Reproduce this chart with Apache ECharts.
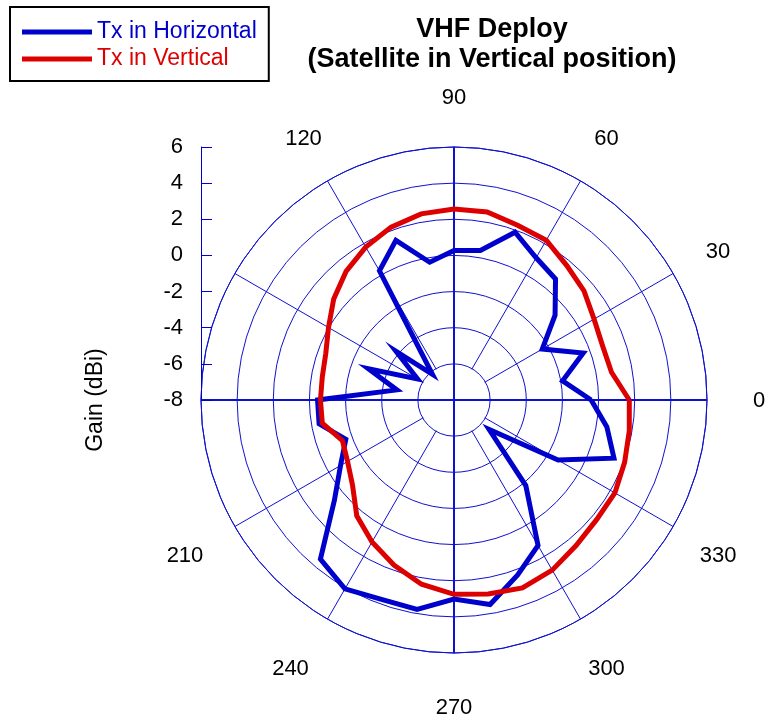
<!DOCTYPE html>
<html><head><meta charset="utf-8">
<script src="https://cdn.jsdelivr.net/npm/echarts@6/dist/echarts.min.js"></script>
<style>html,body{margin:0;padding:0;background:#fff}#c{width:769px;height:722px}</style>
</head><body><div id="c"></div>
<script>
// Angle (degrees, counter-clockwise from 0 at right)
const angles = [0,10,20,30,40,50,60,70,80,90,100,110,120,130,140,150,160,170,
                180,190,200,210,220,230,240,250,260,270,280,290,300,310,320,330,340,350];
// Gain (dBi), Tx in Horizontal
const horizontalGain = [-0.41,-1.9,-0.39,-2.36,-0.70,0.74,1.09,1.88,0.40,0.27,-0.26,1.40,0.25,-6.14,-3.81,-5.67,-2.96,-4.79,
                        -0.45,-0.42,-1.63,-0.75,0.64,3.50,4.07,3.74,3.76,3.02,3.49,2.30,1.30,-1.82,-5.46,-1.35,1.42,0.59];
// Gain (dBi), Tx in Vertical
const verticalGain = [1.70,0.85,0.75,0.95,1.39,1.71,2.21,2.29,2.56,2.57,2.46,2.18,1.77,1.29,0.69,0.02,-0.45,-0.60,
                      -0.61,-0.60,-1.43,-1.20,-0.67,0.37,1.07,1.72,2.35,2.75,2.90,3.07,2.87,2.51,2.30,2.28,2.05,1.85];
const seriesNames = ['Tx in Horizontal', 'Tx in Vertical'];
// Angle tick labels shown around the dial (150 and 180 are hidden by the gain axis in the original)
const angleLabels = [0, 30, 60, 90, 120, 210, 240, 270, 300, 330];
const gainMin = -8, gainMax = 6, gainStep = 2;
const angleStep = 30;

function closed(gains) {
  const d = angles.map((a, i) => [gains[i], a]);
  d.push([gains[0], 360]);
  return d;
}

const FONT = 'Liberation Sans, Arial, sans-serif';
const GRID = '#1010d0';
const BLUE = '#0000cc';
const RED = '#dd0000';
const CX = 454, CY = 400, R = 253;

// label box sizes (width, height, top padding) used to place each angle label on its ring
const labelBox = {
  0: [28, 24, 2], 30: [24, 6, 0], 60: [14, 18, 0], 90: [24, 22, 0], 120: [10, 18, 0],
  210: [34, 20, 0], 240: [36, 34, 0], 270: [24, 34, 0], 300: [14, 34, 0], 330: [24, 20, 0]
};
const rich = {};
angleLabels.forEach(v => {
  const b = labelBox[v];
  rich['a' + v] = {width: b[0], height: b[1], padding: [b[2], 0, 0, 0], align: 'center',
                   verticalAlign: 'middle', color: '#000', fontFamily: FONT, fontSize: 22};
});

const chart = echarts.init(document.getElementById('c'), null, {renderer: 'canvas'});
chart.setOption({
  animation: false,
  backgroundColor: '#fff',
  title: {
    text: 'VHF Deploy\n(Satellite in Vertical position)',
    left: 492, top: 15, padding: 0,
    textAlign: 'center', textVerticalAlign: 'top',
    textStyle: {fontFamily: FONT, fontSize: 27, fontWeight: 'bold', color: '#000', lineHeight: 30}
  },
  legend: {
    orient: 'vertical', left: 10, top: 7,
    padding: [12, 12, 9, 12],
    itemWidth: 70, itemHeight: 5, itemGap: 1, icon: 'rect',
    borderColor: '#000', borderWidth: 2,
    textStyle: {fontFamily: FONT, fontSize: 23, lineHeight: 26},
    data: [
      {name: seriesNames[0], textStyle: {color: BLUE}},
      {name: seriesNames[1], textStyle: {color: RED}}
    ]
  },
  graphic: [{
    type: 'text', x: 96, y: 400, rotation: Math.PI / 2,
    style: {text: 'Gain (dBi)', font: '23px ' + FONT, align: 'center', verticalAlign: 'middle', fill: '#000'}
  }],
  grid: {left: 201, top: CY - R, height: R, width: 10},
  xAxis: {type: 'value', show: false},
  yAxis: {
    type: 'value', min: gainMin, max: gainMax, interval: gainStep,
    axisLine: {show: true, lineStyle: {color: BLUE, width: 1}},
    axisTick: {show: true, inside: true, length: 11, lineStyle: {color: BLUE, width: 1}},
    splitLine: {show: false},
    axisLabel: {color: '#000', fontFamily: FONT, fontSize: 22, margin: 18}
  },
  polar: [
    {center: [CX, CY], radius: [0, R]},
    {center: [CX, CY], radius: [35.5, R]}
  ],
  angleAxis: [
    {
      polarIndex: 0, type: 'value', min: 0, max: 360, interval: 90,
      startAngle: 0, clockwise: false,
      axisLine: {show: true, lineStyle: {color: GRID, width: 1}},
      axisTick: {show: false}, axisLabel: {show: false},
      splitLine: {show: true, lineStyle: {color: GRID, width: 2}}
    },
    {
      polarIndex: 1, type: 'value', min: 0, max: 360, interval: angleStep,
      startAngle: 0, clockwise: false,
      axisLine: {show: false}, axisTick: {show: false},
      axisLabel: {
        show: true, margin: 38, color: '#000', fontFamily: FONT, fontSize: 22,
        formatter: v => (angleLabels.indexOf(v) >= 0 ? '{a' + v + '|' + v + '}' : ''),
        rich: rich
      },
      splitLine: {show: true, lineStyle: {color: GRID, width: 1}}
    }
  ],
  radiusAxis: [
    {
      polarIndex: 0, type: 'value', min: gainMin, max: gainMax, interval: gainStep,
      axisLine: {show: false}, axisTick: {show: false}, axisLabel: {show: false},
      splitLine: {show: true, lineStyle: {color: GRID, width: 1}}
    },
    {
      polarIndex: 1, type: 'value', min: -6, max: gainMax, show: false,
      axisLine: {show: false}, axisTick: {show: false}, axisLabel: {show: false},
      splitLine: {show: false}
    }
  ],
  series: [
    {
      name: seriesNames[0], type: 'line', coordinateSystem: 'polar', polarIndex: 0,
      data: closed(horizontalGain), showSymbol: false, symbol: 'none', z: 3,
      lineStyle: {color: BLUE, width: 5, join: 'miter'}, itemStyle: {color: BLUE}
    },
    {
      name: seriesNames[1], type: 'line', coordinateSystem: 'polar', polarIndex: 0,
      data: closed(verticalGain), showSymbol: false, symbol: 'none', z: 4,
      lineStyle: {color: RED, width: 5, join: 'miter'}, itemStyle: {color: RED}
    }
  ]
});
</script>
</body></html>
